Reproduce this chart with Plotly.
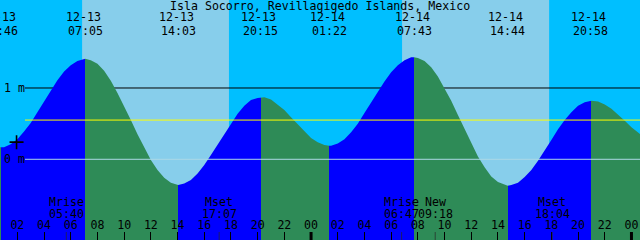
import plotly.graph_objects as go

# ---------------- data ----------------
station = "Isla Socorro, Revillagigedo Islands, Mexico"

extreme_date = ["12-13", "12-13", "12-13", "12-13", "12-14", "12-14", "12-14", "12-14"]
extreme_clock = ["00:46", "07:05", "14:03", "20:15", "01:22", "07:43", "14:44", "20:58"]
extreme_kind = ["low", "high", "low", "high", "low", "high", "low", "high"]
extreme_m = [0.17, 1.41, -0.36, 0.87, 0.19, 1.43, -0.37, 0.82]

# half-hourly readings of the tide curve (hours from 12-13 00:00, metres)
sample_h = [0.0, 0.5, 1.0, 1.5, 2.0, 2.5, 3.0, 3.5, 4.0, 4.5, 5.0, 5.5, 6.0, 6.5, 7.0, 7.5,
            8.0, 8.5, 9.0, 9.5, 10.0, 10.5, 11.0, 11.5, 12.0, 12.5, 13.0, 13.5, 14.0, 14.5,
            15.0, 15.5, 16.0, 16.5, 17.0, 17.5, 18.0, 18.5, 19.0, 19.5, 20.0, 20.5, 21.0,
            21.5, 22.0, 22.5, 23.0, 23.5, 24.0, 24.5, 25.0, 25.5, 26.0, 26.5, 27.0, 27.5,
            28.0, 28.5, 29.0, 29.5, 30.0, 30.5, 31.0, 31.5, 32.0, 32.5, 33.0, 33.5, 34.0,
            34.5, 35.0, 35.5, 36.0, 36.5, 37.0, 37.5, 38.0, 38.5, 39.0, 39.5, 40.0, 40.5,
            41.0, 41.5, 42.0, 42.5, 43.0, 43.5, 44.0, 44.5, 45.0, 45.5, 46.0, 46.5, 47.0,
            47.5, 48.0, 48.5, 49.0]
sample_m = [0.21, 0.17, 0.17, 0.21, 0.28, 0.39, 0.51, 0.66, 0.81, 0.96, 1.11, 1.23, 1.32,
            1.38, 1.41, 1.39, 1.34, 1.24, 1.10, 0.93, 0.75, 0.55, 0.35, 0.16, -0.01, -0.15,
            -0.26, -0.33, -0.36, -0.34, -0.29, -0.20, -0.08, 0.06, 0.21, 0.36, 0.51, 0.64,
            0.75, 0.83, 0.86, 0.87, 0.84, 0.77, 0.69, 0.59, 0.49, 0.39, 0.30, 0.24, 0.20,
            0.19, 0.22, 0.28, 0.38, 0.50, 0.65, 0.80, 0.95, 1.09, 1.22, 1.32, 1.39, 1.43,
            1.42, 1.38, 1.29, 1.16, 1.00, 0.82, 0.62, 0.42, 0.22, 0.04, -0.11, -0.24, -0.32,
            -0.36, -0.36, -0.33, -0.25, -0.15, -0.02, 0.12, 0.27, 0.42, 0.55, 0.66, 0.75,
            0.80, 0.82, 0.81, 0.77, 0.71, 0.63, 0.54, 0.45, 0.37, 0.30]

sun_date = ["12-13", "12-13", "12-14", "12-14"]
sun_clock = ["06:51", "17:51", "06:49", "17:50"]   # sunrise, sunset, sunrise, sunset

moon_name = ["Mrise", "Mset", "Mrise", "New", "Mset"]
moon_date = ["12-13", "12-13", "12-14", "12-14", "12-14"]
moon_clock = ["05:40", "17:07", "06:47", "09:18", "18:04"]

tick_hours = [2, 4, 6, 8, 10, 12, 14, 16, 18, 20, 22, 24,
              26, 28, 30, 32, 34, 36, 38, 40, 42, 44, 46, 48]
tick_text = ["02", "04", "06", "08", "10", "12", "14", "16", "18", "20", "22", "00",
             "02", "04", "06", "08", "10", "12", "14", "16", "18", "20", "22", "00"]
midnight_hours = [24, 48]

level_ticks_m = [0, 1]
level_ticks_text = ["0 m", "1 m"]
msl_m = 0.55

mark_h = 1.94
mark_m = 0.24

# ---------------- styling ----------------
NIGHT = "#00BFFF"
DAY = "#87CEEB"
RISE = "#0000FF"
FALL = "#2E8B57"
FONT = "DejaVu Sans Mono"
FS = 11.6
W, H = 640, 240
X0, X1 = 0.70, 48.64
Y0, Y1 = -1.132, 2.234


def to_hours(date, clock):
    day = int(date[3:]) - 13
    hh, mm = clock.split(":")
    return 24 * day + int(hh) + int(mm) / 60.0


ext_h = [to_hours(d, c) for d, c in zip(extreme_date, extreme_clock)]
sun_h = [to_hours(d, c) for d, c in zip(sun_date, sun_clock)]
moon_h = [to_hours(d, c) for d, c in zip(moon_date, moon_clock)]

pts = sorted(list(zip(sample_h, sample_m)) + list(zip(ext_h, extreme_m)))
curve_x = [p[0] for p in pts]
curve_y = [p[1] for p in pts]

# horizontal colour gradient: rising (blue) / falling (green) between extremes
span = X1 - X0
stops = [[0.0, RISE if extreme_kind[0] == "high" else FALL]]
for h, k in zip(ext_h, extreme_kind):
    p = (h - X0) / span
    if 0 < p < 1:
        before = RISE if k == "high" else FALL
        after = RISE if k == "low" else FALL
        stops.append([p, before])
        stops.append([p, after])
stops.append([1.0, RISE if extreme_kind[-1] == "low" else FALL])

fig = go.Figure()
fig.add_trace(go.Scatter(x=[X0 - 1, X1 + 1], y=[Y0 - 0.1, Y0 - 0.1], mode="lines",
                         line=dict(width=0), hoverinfo="skip"))
fig.add_trace(go.Scatter(x=curve_x, y=curve_y, mode="lines",
                         line=dict(width=0, color=RISE),
                         fill="tonexty",
                         fillgradient=dict(type="horizontal", colorscale=stops,
                                           start=X0, stop=X1),
                         hoverinfo="skip"))
fig.add_trace(go.Scatter(x=[mark_h], y=[mark_m], mode="markers",
                         marker=dict(symbol="cross-thin", size=10,
                                     line=dict(width=1.6, color="black")),
                         hoverinfo="skip"))

shapes = []
# daytime backgrounds
for rise_h, set_h in zip(sun_h[0::2], sun_h[1::2]):
    shapes.append(dict(type="rect", xref="x", yref="paper", x0=rise_h, x1=set_h,
                       y0=0, y1=1, fillcolor=DAY, line=dict(width=0), layer="below"))
# 1 m line behind the tide
shapes.append(dict(type="line", xref="paper", yref="y", x0=25 / W, x1=1,
                   y0=level_ticks_m[1], y1=level_ticks_m[1],
                   line=dict(color="black", width=1), layer="below"))
# datum (0 m) and mean sea level lines over the tide
shapes.append(dict(type="line", xref="paper", yref="y", x0=25 / W, x1=1,
                   y0=level_ticks_m[0], y1=level_ticks_m[0],
                   line=dict(color="#ADD8E6", width=1), layer="above"))
shapes.append(dict(type="line", xref="paper", yref="y", x0=25 / W, x1=1,
                   y0=msl_m, y1=msl_m,
                   line=dict(color="#FFFF00", width=1), layer="above"))
# midnight ticks
for mh in midnight_hours:
    shapes.append(dict(type="line", xref="x", yref="paper", x0=mh, x1=mh,
                       y0=0, y1=8 / H, line=dict(color="black", width=3), layer="above"))
# moon event ticks
for mh in moon_h:
    shapes.append(dict(type="line", xref="x", yref="paper", x0=mh, x1=mh,
                       y0=0, y1=8 / H, line=dict(color="rgba(40,40,40,0.7)", width=1),
                       layer="above"))

ann = []


def text(x, ypx, s, xref="x", xshift=0):
    ann.append(dict(x=x, y=1 - ypx / H, xref=xref, yref="paper", text=s,
                    showarrow=False, xanchor="center", yanchor="middle",
                    xshift=xshift, font=dict(family=FONT, size=FS, color="black")))


text(0.5, 6, station, xref="paper")
for h, d, c in zip(ext_h, extreme_date, extreme_clock):
    text(h, 17.5, d, xshift=-2)
    text(h, 30.5, c)
for h, n, c in zip(moon_h, moon_name, moon_clock):
    text(h, 201.5, n)
    text(h, 213.5, c)
# level labels on the left, at their heights on the y scale
for v, s in zip(level_ticks_m, level_ticks_text):
    ann.append(dict(x=0, y=v, xref="paper", yref="y", text=s, showarrow=False,
                    xanchor="left", yanchor="middle", xshift=2,
                    font=dict(family=FONT, size=FS, color="black")))

fig.update_layout(
    width=W, height=H, autosize=False,
    margin=dict(l=0, r=0, t=0, b=0, pad=0),
    plot_bgcolor=NIGHT, paper_bgcolor=NIGHT,
    showlegend=False,
    shapes=shapes, annotations=ann,
    xaxis=dict(range=[X0, X1], showgrid=False, zeroline=False, showline=False,
               tickmode="array", tickvals=tick_hours, ticktext=tick_text,
               ticks="inside", ticklen=8, tickwidth=1, tickcolor="black",
               ticklabelposition="inside", ticklabelstandoff=0,
               tickfont=dict(family=FONT, size=FS, color="black")),
    yaxis=dict(range=[Y0, Y1], showgrid=False, zeroline=False, showline=False,
               showticklabels=False, ticks=""),
)

fig.write_html("out.html")
